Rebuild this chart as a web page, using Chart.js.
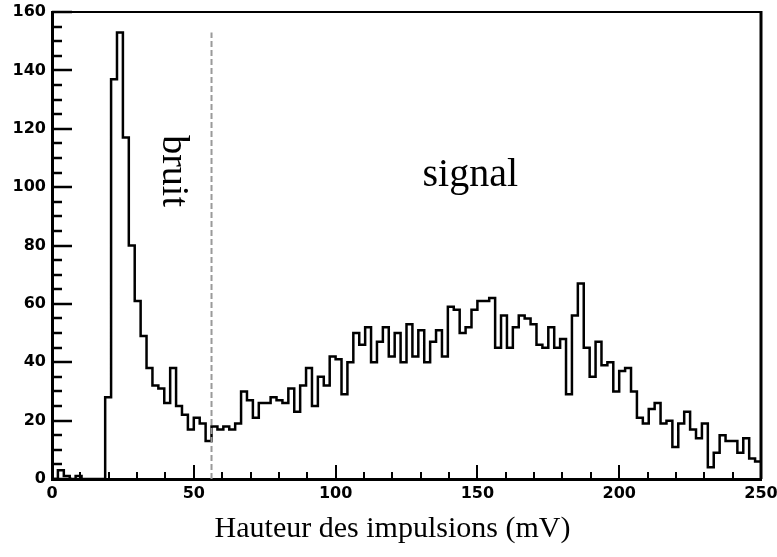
<!DOCTYPE html>
<html>
<head>
<meta charset="utf-8">
<script src="https://cdn.jsdelivr.net/npm/chart.js@4"></script>
<style>
  body { margin: 0; background: #fff; }
  canvas { display: block; }
</style>
</head>
<body>
<canvas id="histo" width="777" height="557"></canvas>
<script>
// pulse height spectrum, 120 bins between 0 and 250 mV
var xMin = 0, xMax = 250;
var yMin = 0, yMax = 160;
var nBins = 120;
var counts = [
  0, 3, 1, 0, 1, 0, 0, 0, 0, 28,
  137, 153, 117, 80, 61, 49, 38, 32, 31, 26,
  38, 25, 22, 17, 21, 19, 13, 18, 17, 18,
  17, 19, 30, 27, 21, 26, 26, 28, 27, 26,
  31, 23, 32, 38, 25, 35, 32, 42, 41, 29,
  40, 50, 46, 52, 40, 47, 52, 42, 50, 40,
  53, 42, 51, 40, 47, 51, 42, 59, 58, 50,
  52, 58, 61, 61, 62, 45, 56, 45, 52, 56,
  55, 53, 46, 45, 52, 45, 48, 29, 56, 67,
  45, 35, 47, 39, 40, 30, 37, 38, 30, 21,
  19, 24, 26, 19, 20, 11, 19, 23, 17, 14,
  19, 4, 9, 15, 13, 13, 9, 14, 7, 6
];
var xTickLabels = [0, 50, 100, 150, 200, 250];
var yTickLabels = [0, 20, 40, 60, 80, 100, 120, 140, 160];

// noise / signal separation
var cutValue = 56.25;
var cutTop = 153;

var xTitle = 'Hauteur des impulsions (mV)';
var noiseLabel = 'bruit';
var signalLabel = 'signal';

var binWidth = (xMax - xMin) / nBins;

// step outline: one point per bin low edge, plus the upper edge of the last bin
var histPoints = counts.map(function (c, i) {
  return { x: xMin + i * binWidth, y: c };
});
histPoints.push({ x: xMax, y: counts[counts.length - 1] });

var serif = '"Liberation Serif", "Times New Roman", serif';
var tickFont = { family: '"DejaVu Sans", sans-serif', size: 16, weight: 'bold' };

var framePlugin = {
  id: 'rootFrame',
  afterDatasetsDraw: function (chart) {
    var ctx = chart.ctx;
    var a = chart.chartArea;
    var xs = chart.scales.x, ys = chart.scales.y;
    ctx.save();
    ctx.strokeStyle = '#000';

    // inner ticks on the y axis (major every 20, minor every 5)
    ctx.lineWidth = 2.5;
    for (var v = yMin; v <= yMax; v += 5) {
      var py = Math.round(ys.getPixelForValue(v));
      var len = (v % 20 === 0) ? 20 : 10;
      ctx.beginPath();
      ctx.moveTo(a.left, py);
      ctx.lineTo(a.left + len, py);
      ctx.stroke();
    }
    // inner ticks on the x axis (major every 50, minor every 10)
    ctx.lineWidth = 2;
    for (var u = xMin; u <= xMax; u += 10) {
      var px = Math.round(xs.getPixelForValue(u));
      var l = (u % 50 === 0) ? 14 : 7;
      ctx.beginPath();
      ctx.moveTo(px, a.bottom);
      ctx.lineTo(px, a.bottom - l);
      ctx.stroke();
    }

    // frame
    ctx.lineWidth = 2;
    ctx.beginPath();
    ctx.moveTo(a.left, a.top);
    ctx.lineTo(a.right, a.top);
    ctx.stroke();
    ctx.lineWidth = 3;
    ctx.beginPath();
    ctx.moveTo(a.right, a.top - 1);
    ctx.lineTo(a.right, a.bottom);
    ctx.stroke();

    ctx.fillStyle = '#000';
    ctx.textAlign = 'center';
    ctx.textBaseline = 'middle';

    // axis title, centred on the canvas
    ctx.font = '30px ' + serif;
    ctx.fillText(xTitle, chart.width / 2 + 4, 529);

    // region labels
    ctx.font = '40px ' + serif;
    ctx.fillText(signalLabel, xs.getPixelForValue(147.5), ys.getPixelForValue(104));

    ctx.font = '38px ' + serif;
    ctx.translate(xs.getPixelForValue(42.5), ys.getPixelForValue(105.5));
    ctx.rotate(Math.PI / 2);
    ctx.fillText(noiseLabel, 0, 0);
    ctx.restore();
  }
};

new Chart(document.getElementById('histo'), {
  type: 'line',
  data: {
    datasets: [
      {
        label: 'cut',
        data: [{ x: cutValue, y: yMin }, { x: cutValue, y: cutTop }],
        borderColor: '#9a9a9a',
        borderWidth: 2,
        borderDash: [6, 3],
        pointRadius: 0
      },
      {
        label: 'impulsions',
        data: histPoints,
        stepped: 'before',
        borderColor: '#000',
        borderWidth: 2.5,
        pointRadius: 0,
        fill: false
      }
    ]
  },
  options: {
    responsive: false,
    animation: false,
    devicePixelRatio: 1,
    layout: { padding: { left: 0, right: 16, top: 12, bottom: 0 } },
    plugins: {
      legend: { display: false },
      tooltip: { enabled: false }
    },
    scales: {
      x: {
        type: 'linear',
        min: xMin,
        max: xMax,
        afterFit: function (s) {
          s.height = 78;
          // let the last label run into the margin instead of shrinking the frame
          s.paddingLeft = 0;
          s.paddingRight = 0;
        },
        afterBuildTicks: function (s) {
          s.ticks = xTickLabels.map(function (v) { return { value: v }; });
        },
        grid: { display: false, drawTicks: false },
        border: { display: true, color: '#000', width: 3 },
        ticks: {
          padding: 5,
          color: '#000',
          maxRotation: 0,
          font: tickFont
        }
      },
      y: {
        type: 'linear',
        min: yMin,
        max: yMax,
        afterFit: function (s) {
          s.width = 52;
          s.paddingTop = 0;
          s.paddingBottom = 0;
        },
        afterBuildTicks: function (s) {
          s.ticks = yTickLabels.map(function (v) { return { value: v }; });
        },
        grid: { display: false, drawTicks: false },
        border: { display: true, color: '#000', width: 3 },
        ticks: {
          padding: 6,
          color: '#000',
          font: tickFont
        }
      }
    }
  },
  plugins: [framePlugin]
});
</script>
</body>
</html>
